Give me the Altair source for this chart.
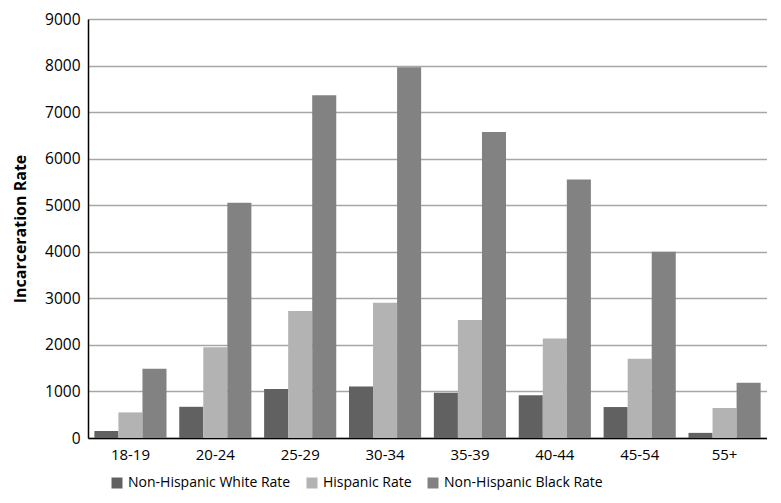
import altair as alt
import pandas as pd

ages = ["18-19", "20-24", "25-29", "30-34", "35-39", "40-44", "45-54", "55+"]
series = ["Non-Hispanic White Rate", "Hispanic Rate", "Non-Hispanic Black Rate"]
white = [150, 670, 1050, 1105, 970, 920, 665, 110]
hispanic = [550, 1950, 2730, 2905, 2535, 2135, 1700, 645]
black = [1490, 5055, 7360, 7965, 6575, 5555, 4000, 1185]
colors = ["#616161", "#b3b3b3", "#828282"]
y_ticks = [0, 1000, 2000, 3000, 4000, 5000, 6000, 7000, 8000, 9000]

rows = []
for i, a in enumerate(ages):
    for s, vals in zip(series, [white, hispanic, black]):
        rows.append({"age": a, "series": s, "rate": vals[i]})
df = pd.DataFrame(rows)

FONT = "Open Sans"

chart = alt.Chart(df).mark_bar().encode(
    x=alt.X(
        "age:N", sort=ages, title=None,
        scale=alt.Scale(paddingInner=0.15, paddingOuter=0.075),
        axis=alt.Axis(labelAngle=0, ticks=False, domainColor="#000000", domainWidth=1.5,
                      labelFontSize=15, labelPadding=9, labelColor="#000000",
                      labelFont=FONT, grid=False),
    ),
    xOffset=alt.XOffset("series:N", sort=series,
                        scale=alt.Scale(paddingInner=0, paddingOuter=0)),
    y=alt.Y(
        "rate:Q", title="Incarceration Rate",
        scale=alt.Scale(domain=[0, 9000], nice=False),
        axis=alt.Axis(values=y_ticks, format="d", ticks=False, domainColor="#000000",
                      domainWidth=1.5, gridColor="#a6a6a6", gridWidth=1.5,
                      labelFontSize=15.5, labelColor="#000000", labelFont=FONT,
                      labelPadding=8, titleFont=FONT, titleFontSize=16,
                      titleFontWeight="bold", titleColor="#000000", titlePadding=16),
    ),
    color=alt.Color(
        "series:N", sort=series,
        scale=alt.Scale(domain=series, range=colors),
        legend=alt.Legend(orient="none", legendX=22, legendY=457, direction="horizontal",
                          title=None, symbolType="square", symbolSize=121,
                          symbolStrokeWidth=0, labelFontSize=14, labelFont=FONT,
                          labelColor="#000000", labelOffset=4, columnPadding=14,
                          labelLimit=400, padding=0),
    ),
).properties(
    width=679, height=419,
    padding={"left": 4, "top": 4, "right": 0, "bottom": 0},
).configure_view(stroke=None)

chart.save("out.html", embed_options={"renderer": "svg", "actions": False})
